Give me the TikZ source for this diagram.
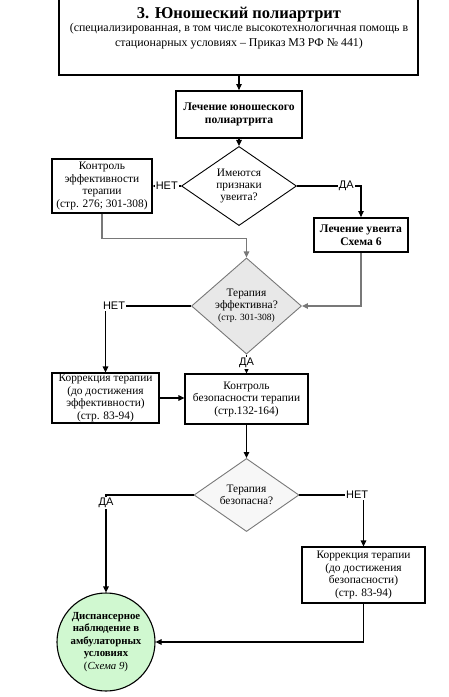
\documentclass[tikz,border=0pt]{standalone}
\usepackage{fontspec}
\setmainfont{Liberation Serif}
\newfontfamily\lblfont{Liberation Sans}
\usetikzlibrary{shapes.geometric,arrows.meta}
\definecolor{lightgreen}{RGB}{208,248,208}
\definecolor{diagray}{RGB}{232,232,232}
\definecolor{linegray}{RGB}{120,120,120}
\begin{document}
\begin{tikzpicture}[x=1pt,y=-1pt,
  box/.style={draw, line width=1.1pt, align=center, inner sep=0pt,
    font=\fontsize{11.4}{12.5}\selectfont},
  boldbox/.style={box, line width=1.8pt, font=\bfseries\fontsize{11.6}{13}\selectfont},
  dia/.style={diamond, draw, align=center, inner sep=0pt, line width=0.9pt,
    font=\fontsize{11.4}{12}\selectfont},
  arr/.style={line width=1.1pt, -{Triangle[length=6pt,width=5.5pt]}},
  garr/.style={arr, draw=linegray},
  lbl/.style={font=\lblfont\fontsize{11}{11}\selectfont, fill=white, inner sep=1pt, text=black},
]
\useasboundingbox (0,0) rectangle (449,697);

% top box
\node[draw, line width=1.6pt, minimum width=359pt, minimum height=86pt, inner sep=0pt] (top) at (238.5,32) {};
\node[font=\bfseries\fontsize{16.5}{20}\selectfont] (title) at (239,15) {3. Юношеский полиартрит};
\node[align=center, font=\fontsize{11.9}{15}\selectfont] (sub) at (239,36.5)
  {(специализированная, в том числе высокотехнологичная помощь в\\стационарных условиях – Приказ МЗ РФ № 441)};

\node[boldbox, minimum width=126pt, minimum height=47pt] (b2) at (239,114.5) {Лечение юношеского\\полиартрита};

\node[dia, minimum width=115pt, minimum height=62pt] (d1) at (239,186) {Имеются\\признаки\\увеита?};

\node[box, minimum width=100pt, minimum height=54pt] (k1) at (102,186) {Контроль\\эффективности\\терапии\\(стр. 276; 301-308)};

\node[boldbox, minimum width=94pt, minimum height=34pt] (u) at (361,235) {Лечение увеита\\Схема 6};

\node[dia, minimum width=110pt, minimum height=68pt, fill=diagray, draw=linegray] (d2) at (246.5,306)
  {Терапия\\эффективна?\\{\fontsize{9.5}{10}\selectfont(стр. 301-308)}};

\node[box, minimum width=107pt, minimum height=50pt] (c1) at (105.5,398) {Коррекция терапии\\(до достижения\\эффективности)\\(стр. 83-94)};

\node[box, minimum width=123pt, minimum height=50pt] (kb) at (246.5,399) {Контроль\\безопасности терапии\\(стр.132-164)};

\node[dia, minimum width=105pt, minimum height=56pt, fill=gray!6, draw=linegray] (d3) at (246.5,495) {Терапия\\безопасна?};

\node[box, minimum width=123pt, minimum height=56pt] (c2) at (363.5,575) {Коррекция терапии\\(до достижения\\безопасности)\\(стр. 83-94)};

\node[circle, draw, line width=1.1pt, fill=lightgreen, minimum size=98pt, inner sep=0pt, align=center,
  font=\bfseries\fontsize{10.8}{12.4}\selectfont] (circ) at (106,642)
  {Диспансерное\\наблюдение в\\амбулаторных\\условиях\\{\normalfont(\textit{Схема 9})}};

% connectors
\draw[arr] (top.south -| b2.north) -- (b2.north);
\draw[arr] (b2.south) -- (d1.north);
\draw[arr] (d1.west) -- node[lbl, pos=0.5]{НЕТ} (k1.east);
\draw[arr] (d1.east) -- node[lbl, pos=0.77]{ДА} (d1.east -| u.north) -- (u.north);
\draw[garr] (k1.south) -- ++(0,25) -| (d2.north);
\draw[garr] (u.south) |- (d2.east);
\draw[arr] (d2.west) -- node[lbl, pos=0.9]{НЕТ} (d2.west -| c1.north) -- (c1.north);
\draw[arr] (d2.south) -- node[lbl, pos=0.45]{ДА} (kb.north);
\draw[arr] (c1.east) -- (c1.east -| kb.west);
\draw[arr] (kb.south) -- (d3.north);
\draw[arr] (d3.west) -| node[lbl, pos=0.54]{ДА} (circ.north);
\draw[arr] (d3.east) -| node[lbl, pos=0.45]{НЕТ} (c2.north);
\draw[arr] (c2.south) |- (circ.east);
\end{tikzpicture}
\end{document}
